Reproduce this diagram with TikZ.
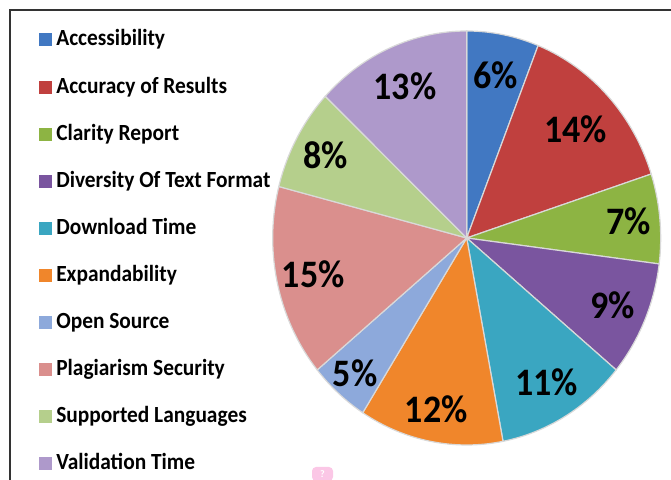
\documentclass[tikz,border=0pt]{standalone}
\usepackage{fontspec}
\setmainfont{Carlito}
\usetikzlibrary{calc, positioning}
\definecolor{accblue}{HTML}{4178C2}
\definecolor{accred}{HTML}{C0403E}
\definecolor{clargreen}{HTML}{8DB443}
\definecolor{divpurple}{HTML}{7A559F}
\definecolor{dlaqua}{HTML}{3AA6C1}
\definecolor{exporange}{HTML}{F0862B}
\definecolor{osblue}{HTML}{8DA9DB}
\definecolor{plagred}{HTML}{DA8F8D}
\definecolor{suppgreen}{HTML}{B5CF8C}
\definecolor{valpurple}{HTML}{AE99CB}
\newcommand{\tallt}[1]{\scalebox{1}[1.08]{#1}}

\begin{document}
\begin{tikzpicture}[x=0.5pt, y=0.5pt,
    slice/.style={draw=white!85!black, line width=0.6pt},
    pctlabel/.style={font=\bfseries\fontsize{18}{20}\selectfont, inner sep=0pt},
    legendkey/.style={minimum size=6.5pt, inner sep=0pt},
    legendtext/.style={font=\bfseries\fontsize{10.7}{12}\selectfont, inner sep=0pt, text height=1.6ex, text depth=0.35ex}]
    \useasboundingbox (0,0) rectangle (671,480);
    \draw[line width=1pt, black!80] (10,0) -- (10,470) -- (671,470);
    \coordinate (center) at (466.7,242);
    \begin{scope}[shift={(center)}]
        \foreach \p/\c/\r [count=\i, remember=\e as \s (initially 90), evaluate=\p as \e using \s-3.6*\p] in
            {6/accblue/0.80, 14/accred/0.77, 7/clargreen/0.84, 9/divpurple/0.82, 11/dlaqua/0.81,
             12/exporange/0.84, 5/osblue/0.87, 15/plagred/0.81, 8/suppgreen/0.83, 13/valpurple/0.80} {
            \pgfmathsetmacro\m{(\s+\e)/2}
            \pgfmathsetmacro\rx{\r*194}
            \pgfmathsetmacro\ry{\r*207}
            \filldraw[slice, fill=\c] (0,0) -- (\s:194 and 207) arc[start angle=\s, end angle=\e, x radius=194, y radius=207] -- cycle;
            \node (pct\i) [pctlabel] at (\m:{\rx} and {\ry}) {\tallt{\p\%}};
        }
    \end{scope}
    \foreach \t/\c [count=\i] in {Accessibility/accblue, Accuracy of Results/accred, Clarity Report/clargreen,
        Diversity Of Text Format/divpurple, Download Time/dlaqua, Expandability/exporange, Open Source/osblue,
        Plagiarism Security/plagred, Supported Languages/suppgreen, Validation Time/valpurple} {
        \node (key\i) [legendkey, fill=\c] at (45, {440-47.1*(\i-1)}) {};
        \node (name\i) [legendtext, right=2pt of key\i] {\tallt{\t}};
    }
    \node (help) [fill=magenta!22, rounded corners=2pt, minimum width=10.5pt, minimum height=7pt, inner sep=0pt,
        font=\bfseries\fontsize{5}{6}\selectfont, text=white] at (322.5,6) {?};
\end{tikzpicture}
\end{document}
